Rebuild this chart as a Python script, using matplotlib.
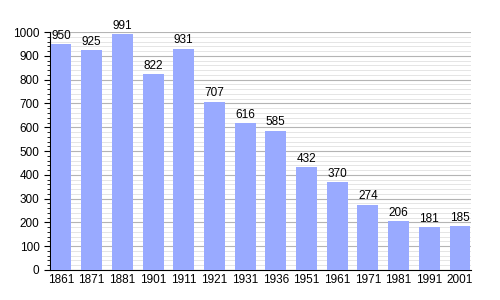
import matplotlib
matplotlib.use('Agg')
import matplotlib.pyplot as plt
from matplotlib.ticker import MultipleLocator

years = ['1861', '1871', '1881', '1901', '1911', '1921', '1931', '1936',
         '1951', '1961', '1971', '1981', '1991', '2001']
population = [950, 925, 991, 822, 931, 707, 616, 585, 432, 370, 274, 206, 181, 185]

plt.rcParams['font.family'] = ['Liberation Sans', 'DejaVu Sans']
fig = plt.figure(figsize=(5, 3), dpi=100)
ax = fig.add_axes([0.1, 0.1, 0.842, 0.793])

x = range(len(years))
ax.bar(x, population, width=0.68, color='#99aaff', zorder=3)
for xi, v in zip(x, population):
    ax.text(xi, v + 10, str(v), ha='center', va='bottom', fontsize=8.5, zorder=4)

ax.set_xlim(-0.36, 13.36)
ax.set_ylim(0, 1000)
ax.set_xticks(list(x))
ax.set_xticklabels(years)
ax.yaxis.set_major_locator(MultipleLocator(100))
ax.yaxis.set_minor_locator(MultipleLocator(20))
ax.grid(axis='y', which='major', color='#b4b4b4', linewidth=0.8, zorder=0)
ax.grid(axis='y', which='minor', color='#e0e0e0', linewidth=0.6, zorder=0)
ax.tick_params(axis='x', length=0, labelsize=8.5, pad=3)
ax.tick_params(axis='y', which='major', length=4, labelsize=8.5)
ax.tick_params(axis='y', which='minor', length=2)
for s in ['top', 'right']:
    ax.spines[s].set_visible(False)

fig.savefig('out.png')
